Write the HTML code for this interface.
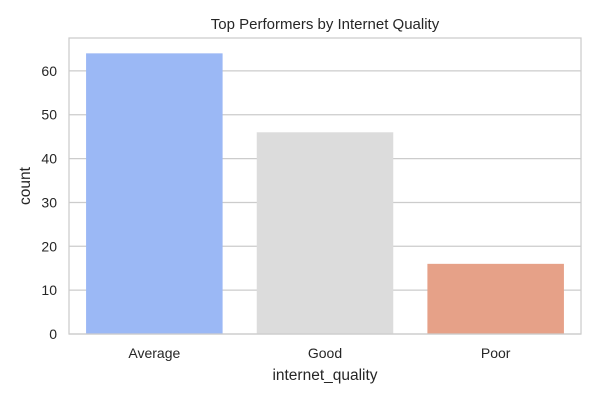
<!DOCTYPE html>
<html><head><meta charset="utf-8"><style>
body{margin:0;background:#fff;}
svg{display:block;font-family:"Liberation Sans",Arial,sans-serif;}
</style></head><body>
<svg id="chart" width="600" height="400" viewBox="0 0 600 400">
<rect width="600" height="400" fill="#fff"/>
<g id="grid"></g>
<g id="bars"></g>
<rect x="69" y="38" width="512" height="296" fill="none" stroke="#cccccc" stroke-width="1.25"/>
<g id="yticks"></g>
<g id="xticks"></g>
<text x="325" y="29" text-anchor="middle" font-size="15" fill="#262626">Top Performers by Internet Quality</text>
<text x="325" y="380" text-anchor="middle" font-size="15.5" fill="#262626">internet_quality</text>
<text transform="translate(30,186) rotate(-90)" text-anchor="middle" font-size="15.5" fill="#262626">count</text>
</svg>
<script>
const categories=["Average","Good","Poor"];
const counts=[64,46,16];
const colors=["#9bb8f5","#dcdcdc","#e6a188"];
const yTicks=[0,10,20,30,40,50,60];
const X0=69,X1=581,Y0=334,Y1=38,YMAX=67.5;
const ns="http://www.w3.org/2000/svg";
function y(v){return Y0-(v/YMAX)*(Y0-Y1);}
const band=(X1-X0)/categories.length;
function xc(i){return X0+band*(i+0.5);}
function mk(t,a){const e=document.createElementNS(ns,t);for(const k in a)e.setAttribute(k,a[k]);return e;}
const grid=document.getElementById('grid'),yt=document.getElementById('yticks'),bars=document.getElementById('bars'),xt=document.getElementById('xticks');
yTicks.forEach(v=>{
 const l=mk('line',{x1:X0,x2:X1,y1:y(v),y2:y(v),stroke:'#cccccc','stroke-width':1.25});
 
 
 grid.appendChild(l);
 const t=mk('text',{x:X0-12,y:y(v)+5,'text-anchor':'end','font-size':14,fill:'#262626'});
 t.textContent=v;
 
 
 yt.appendChild(t);
});
const bw=band*0.8;
categories.forEach((c,i)=>{
 const r=mk('rect',{x:xc(i)-bw/2,y:y(counts[i]),width:bw,height:Y0-y(counts[i]),fill:colors[i]});
 
 
 bars.appendChild(r);
 const t=mk('text',{x:xc(i),y:Y0+24,'text-anchor':'middle','font-size':14,fill:'#262626'});
 t.textContent=c;
 
 
 xt.appendChild(t);
});
</script>
</body></html>
